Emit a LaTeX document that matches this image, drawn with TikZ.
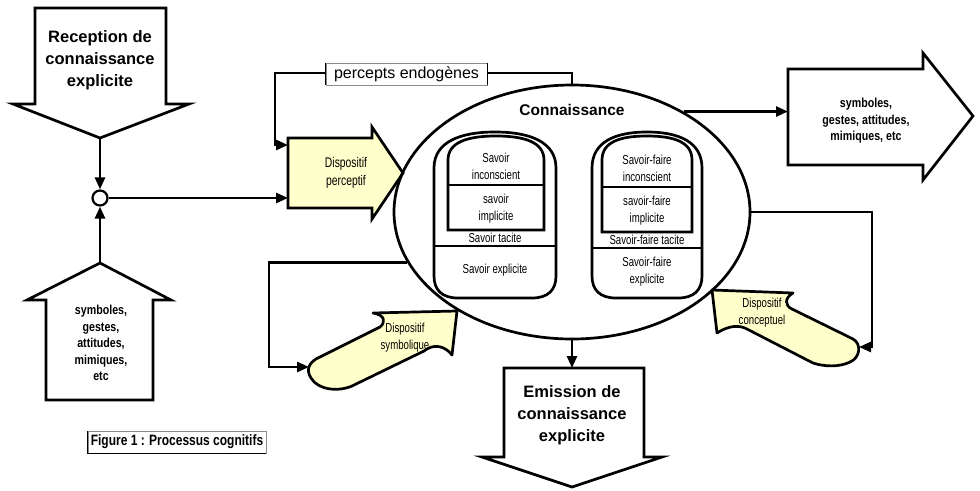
\documentclass[tikz,border=0pt]{standalone}
\usepackage{fontspec}
\setmainfont{Liberation Sans}
\newfontfamily\narrowfont{Liberation Sans}[FakeStretch=0.74]
\newfontfamily\symfont{Liberation Sans}[FakeStretch=0.82]
\newfontfamily\capfont{Liberation Sans}[FakeStretch=0.8]
\usetikzlibrary{arrows.meta,shapes.geometric,calc}
\definecolor{paleyellow}{HTML}{FFFFCC}
\definecolor{framegray}{gray}{0.55}

\begin{document}
\begin{tikzpicture}[x=1pt,y=-1pt,
  heavy/.style={line width=2.7pt, line join=miter},
  link/.style={line width=2.7pt, -{Triangle[length=12pt,width=10pt]}},
  bigarrow/.style={heavy, fill=white},
  device/.style={heavy, fill=paleyellow, line join=round},
  bigtext/.style={align=center, font=\bfseries\fontsize{16.5}{22}\selectfont, inner sep=0},
  symtext/.style={align=center, font=\symfont\bfseries\fontsize{13}{16.5}\selectfont, inner sep=0},
  smalltext/.style={align=center, font=\narrowfont\fontsize{13}{17}\selectfont, inner sep=0},
  devtext/.style={align=center, font=\narrowfont\fontsize{14}{18}\selectfont, inner sep=0},
  ]
\useasboundingbox (0,0) rectangle (980,490);

% --- incoming explicit knowledge (down arrow)
\draw[bigarrow] (35,8) -- (166,8) -- (166,104) -- (189,104) -- (100,138) -- (13,104) -- (35,104) -- cycle;
\coordinate (rectip) at (100,138);
\node[bigtext] (rec) at (100,60) {Reception de\\connaissance\\explicite};

% --- incoming signs (up arrow)
\draw[bigarrow] (46,400) -- (46,300) -- (27,300) -- (100,263) -- (171,300) -- (153,300) -- (153,400) -- cycle;
\coordinate (symtip) at (100,263);
\node[symtext] (symin) at (101,343) {symboles,\\gestes,\\attitudes,\\mimiques,\\etc};

% --- perceptual device
\draw[device, line join=miter] (288,138) -- (372,138) -- (372,127) -- (403,173) -- (372,219) -- (372,208) -- (288,208) -- cycle;
\coordinate (pertail) at (288,198);
\coordinate (perin) at (288,145);
\node[devtext] (pertext) at (346,173) {Dispositif\\perceptif};

% --- symbolic device
\draw[device] (373,313) -- (457,311) -- (452,355)
  .. controls (445,346) and (434,343) .. (424,351) -- (352,386)
  .. controls (338,392) and (318,390) .. (311,378)
  .. controls (305,369) and (310,361) .. (320,357) -- (380,327)
  .. controls (386,322) and (385,315) .. (373,313) -- cycle;
\coordinate (symtail) at (309,367);
\node[smalltext] (symdev) at (405,338) {Dispositif\\symbolique};

% --- conceptual device
\draw[device] (712,290) -- (793,293)
  .. controls (784,298) and (785,306) .. (792,309) -- (853,339)
  .. controls (862,344) and (860,358) .. (850,362)
  .. controls (840,367) and (825,367) .. (813,363) -- (745,328)
  .. controls (735,324) and (725,328) .. (717,333) -- cycle;
\coordinate (contail) at (859,347);
\node[smalltext] (condev) at (762,313) {Dispositif\\conceptuel};

% --- knowledge
\node[ellipse, draw, line width=2.7pt, minimum width=356pt, minimum height=254pt, inner sep=0] (know) at (572,212) {};
\node[font=\bfseries\fontsize{15.5}{18}\selectfont, inner sep=0] (conn) at (572,110) {Connaissance};

% knowing: outer container
\draw[heavy] (434,168) .. controls (434,142) and (460,132) .. (495,132)
  .. controls (530,132) and (556,142) .. (556,168) -- (556,276)
  .. controls (556,290) and (548,298) .. (532,298) -- (458,298)
  .. controls (442,298) and (434,290) .. (434,276) -- cycle;
\draw[heavy] (434,246) -- (556,246);
% knowing: tacit part
\draw[heavy] (448,160) .. controls (448,142) and (468,136) .. (496,136)
  .. controls (524,136) and (544,142) .. (544,160) -- (544,230) -- (448,230) -- cycle;
\draw[heavy] (448,185) -- (544,185);
\node[smalltext] (s1) at (496,166) {Savoir\\inconscient};
\node[smalltext] (s2) at (496,209) {savoir\\implicite};
\node[smalltext] (s3) at (495,238) {Savoir tacite};
\node[smalltext] (s4) at (495,270) {Savoir explicite};

% know-how: outer container
\draw[heavy] (592,168) .. controls (592,142) and (615,132) .. (647,132)
  .. controls (679,132) and (702,142) .. (702,168) -- (702,276)
  .. controls (702,290) and (694,298) .. (678,298) -- (616,298)
  .. controls (600,298) and (592,290) .. (592,276) -- cycle;
\draw[heavy] (592,248) -- (702,248);
% know-how: tacit part
\draw[heavy] (602,160) .. controls (602,142) and (620,136) .. (647,136)
  .. controls (674,136) and (692,142) .. (692,160) -- (692,232) -- (602,232) -- cycle;
\draw[heavy] (602,187) -- (692,187);
\node[smalltext] (f1) at (647,168) {Savoir-faire\\inconscient};
\node[smalltext] (f2) at (647,211) {savoir-faire\\implicite};
\node[smalltext] (f3) at (647,240) {Savoir-faire tacite};
\node[smalltext] (f4) at (647,272) {Savoir-faire\\explicite};

% --- outgoing signs (right arrow)
\draw[bigarrow] (788,69) -- (923,69) -- (923,53) -- (973,116) -- (923,180) -- (923,165) -- (788,165) -- cycle;
\coordinate (outtail) at (788,112);
\node[symtext] (outtext) at (866,121) {symboles,\\gestes, attitudes,\\mimiques, etc};

% --- outgoing explicit knowledge (down arrow)
\draw[bigarrow] (504,368) -- (644,368) -- (644,457) -- (662,457) -- (572,487) -- (482,457) -- (504,457) -- cycle;
\coordinate (emtop) at (572,368);
\node[bigtext] (emi) at (572,415) {Emission de\\connaissance\\explicite};

% --- connectors
\node[circle, draw, line width=2.2pt, fill=white, minimum size=15pt, inner sep=0] (junc) at (100,198) {};
\draw[link] (rectip) -- (junc.north);
\draw[link] (symtip) -- (junc.south);
\draw[link] (junc.east) -- (pertail);
\draw[link] (know.north) |- (275,73) |- (perin);
\draw[link] (know.42) -- (know.42 -| outtail);
\draw[link] (know.south) -- (emtop);
\draw[link] (know.197) -| (269,367) -- (symtail);
\draw[link] (know.east) -| (872,347) -- (contail);

% --- labels in frames
\node[draw=framegray, line width=0.8pt, fill=white, minimum width=161pt, minimum height=22pt, inner sep=0,
  font=\fontsize{16}{18}\selectfont] (endo) at (406.5,74) {percepts endogènes};
\draw[line width=1pt] (endo.north west) -- (endo.south west) (endo.north east) -- (endo.south east);

\node[draw=framegray, line width=0.8pt, minimum width=178pt, minimum height=22pt, inner sep=0,
  font=\capfont\bfseries\fontsize{15}{17}\selectfont] (cap) at (177,442) {Figure 1 : Processus cognitifs};
\draw[line width=1pt] (cap.north west) -- (cap.south west) -- (cap.south east);
\end{tikzpicture}
\end{document}
